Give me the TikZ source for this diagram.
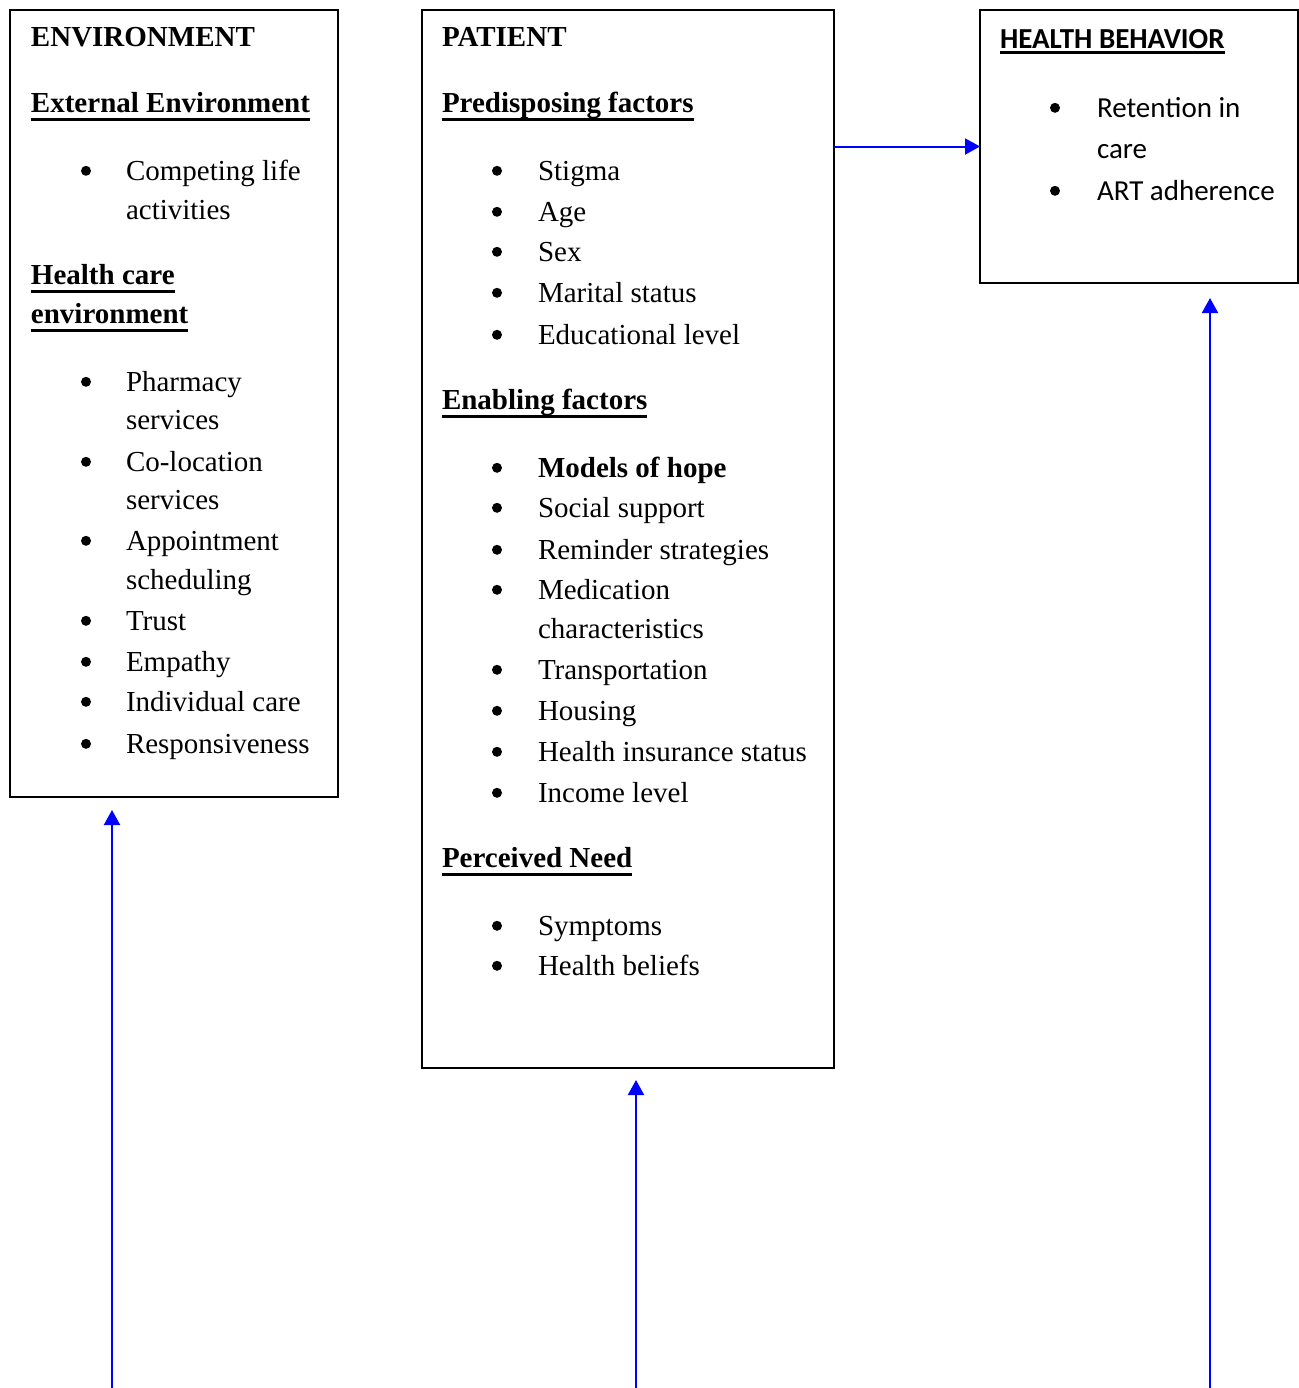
\documentclass[tikz,border=0pt]{standalone}
\usepackage{fontspec}
\setmainfont{Liberation Serif}
\newfontfamily\hbfont{Carlito}
\usetikzlibrary{arrows.meta}
% bold heading with a Word-like underline
\newcommand{\hd}[2][4.6pt]{\setbox0\hbox{\bfseries #2}\rlap{\rule[-#1]{\wd0}{1.6pt}}\box0}
\begin{document}
\begin{tikzpicture}[x=0.5pt,y=-0.5pt,inner sep=0pt,outer sep=0pt,
box/.style={draw,rectangle,line width=1.2pt},
txt/.style={anchor=base west,font=\fontsize{14.5pt}{20pt}\selectfont},
cal/.style={anchor=base west,font=\hbfont\fontsize{14.5pt}{20pt}\selectfont},
dot/.style={circle,fill,minimum size=5pt,yshift=4.6pt},
flow/.style={draw=blue,line width=1pt,-{Triangle[length=7.5pt,width=8pt]}}]
\useasboundingbox (0,0) rectangle (1299,1388);
% the three boxes
\draw (174,403.5) node[box,minimum width=164pt,minimum height=393.5pt] (env) {};
\draw (628,539) node[box,minimum width=206pt,minimum height=529pt] (pat) {};
\draw (1139,146.5) node[box,minimum width=159pt,minimum height=136.5pt] (hb) {};
% environment
\draw (31,46) node[txt] (envT) {\textbf{ENVIRONMENT}};
\draw (31,112) node[txt] (ext) {\hd{External Environment}};
\draw (126,180) node[txt] (ext1) {Competing life};
\draw (126,219) node[txt] (ext1b) {activities};
\draw (86,180) node[dot] (extdot1) {};
\draw (31,284) node[txt] (hc) {\hd{Health care}};
\draw (31,323) node[txt] (hcb) {\hd{environment}};
\foreach \t/\y [count=\i] in {Pharmacy/391,services/429,Co-location/471,services/509,Appointment/550,scheduling/589,Trust/630,Empathy/671,Individual care/711,Responsiveness/753}
  \draw (126,\y) node[txt] (hc\i) {\t};
\foreach \y [count=\i] in {391,471,550,630,671,711,753}
  \draw (86,\y) node[dot] (hcdot\i) {};
% patient
\draw (442,46) node[txt] (patT) {\textbf{PATIENT}};
\draw (442,112) node[txt] (pre) {\hd{Predisposing factors}};
\foreach \t/\y [count=\i] in {Stigma/180,Age/221,Sex/261,Marital status/302,Educational level/344}{
  \draw (538,\y) node[txt] (pre\i) {\t};
  \draw (497,\y) node[dot] (predot\i) {};
}
\draw (442,409) node[txt] (ena) {\hd{Enabling factors}};
\draw (538,477) node[txt] (ena0) {\textbf{Models of hope}};
\foreach \t/\y [count=\i] in {Social support/517,Reminder strategies/559,Medication/599,characteristics/638,Transportation/679,Housing/720,Health insurance status/761,Income level/802}
  \draw (538,\y) node[txt] (ena\i) {\t};
\foreach \y [count=\i] in {477,517,559,599,679,720,761,802}
  \draw (497,\y) node[dot] (enadot\i) {};
\draw (442,867) node[txt] (need) {\hd{Perceived Need}};
\foreach \t/\y [count=\i] in {Symptoms/935,Health beliefs/975}{
  \draw (538,\y) node[txt] (need\i) {\t};
  \draw (497,\y) node[dot] (needdot\i) {};
}
% health behavior
\draw (1000,48) node[cal] (hbT) {\hd[3pt]{HEALTH BEHAVIOR}};
\draw (1097,117) node[cal] (hb1) {Retention in};
\draw (1097,158) node[cal] (hb1b) {care};
\draw (1097,200) node[cal] (hb2) {ART adherence};
\draw (1055,117) node[dot] (hbdot1) {};
\draw (1055,200) node[dot] (hbdot2) {};
% arrows
\coordinate (envin) at (112,1388);
\coordinate (patin) at (636,1388);
\coordinate (hbin) at (1210,1388);
\draw[flow] (pat.east |- hb.west) -- (hb.west);
\draw[flow,shorten >=6.5pt] (envin) -- (envin |- env.south);
\draw[flow,shorten >=6pt] (patin) -- (patin |- pat.south);
\draw[flow,shorten >=7.5pt] (hbin) -- (hbin |- hb.south);
\end{tikzpicture}
\end{document}
